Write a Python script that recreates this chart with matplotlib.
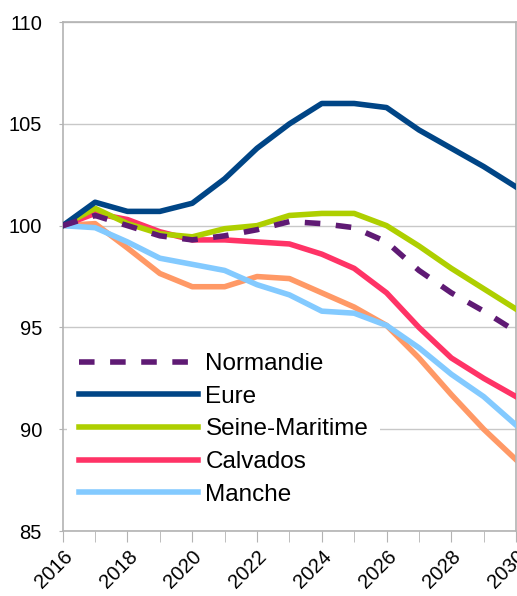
import numpy as np
import matplotlib
matplotlib.use('Agg')
import matplotlib.pyplot as plt

# data (index, base 100 in 2016)
years = list(range(2016, 2031))
normandie = [100, 100.5, 100.0, 99.5, 99.3, 99.5, 99.8, 100.2, 100.1, 99.9, 99.2, 97.8, 96.7, 95.8, 94.8]
eure = [100, 101.15, 100.7, 100.7, 101.1, 102.3, 103.8, 105.0, 106.0, 106.0, 105.8, 104.7, 103.8, 102.9, 101.9]
seine_maritime = [100, 100.85, 100.1, 99.6, 99.45, 99.85, 100.0, 100.5, 100.6, 100.6, 100.0, 99.0, 97.9, 96.9, 95.9]
calvados = [100, 100.6, 100.3, 99.7, 99.3, 99.3, 99.2, 99.1, 98.6, 97.9, 96.7, 95.0, 93.5, 92.5, 91.6]
manche = [100, 99.9, 99.2, 98.4, 98.1, 97.8, 97.1, 96.6, 95.8, 95.7, 95.1, 94.0, 92.7, 91.6, 90.2]
orne = [100, 100.1, 98.9, 97.65, 97.0, 97.0, 97.5, 97.4, 96.7, 96.0, 95.1, 93.5, 91.7, 90.0, 88.5]

plt.rcParams['font.family'] = ['Liberation Sans', 'DejaVu Sans']

fig = plt.figure(figsize=(5.17, 5.96), dpi=100)
ax = fig.add_axes([0.1213, 0.109, 0.877, 0.854])

lw = 4
# orange line (Orne) drawn first, it is not in the legend
ax.plot(years, orne, color='#ff9966', lw=lw, zorder=2)
l5, = ax.plot(years, manche, color='#83caff', lw=lw, label='Manche', zorder=3)
l4, = ax.plot(years, calvados, color='#ff3366', lw=lw, label='Calvados', zorder=4)
l3, = ax.plot(years, seine_maritime, color='#aecf00', lw=lw, label='Seine-Maritime', zorder=5)
l2, = ax.plot(years, eure, color='#004586', lw=lw, label='Eure', zorder=6)
l1, = ax.plot(years, normandie, color='#5f1a74', lw=lw, label='Normandie', zorder=7,
              dashes=(2.8, 2.8), dash_capstyle='butt')

ax.set_xlim(2016, 2030)
ax.set_ylim(85, 110)
ax.set_yticks([85, 90, 95, 100, 105, 110])
ax.set_xticks(range(2016, 2031, 2))
ax.set_xticks(range(2016, 2031), minor=True)
ax.grid(axis='y', color='#c8c8c8', lw=1, zorder=0)
for s in ax.spines.values():
    s.set_color('#b3b3b3')
    s.set_linewidth(1.2)

ax.tick_params(axis='y', labelsize=14.5, length=3, color='#b3b3b3', pad=12)
ax.tick_params(axis='x', which='both', length=8, color='#b3b3b3', labelsize=14.5)
for lab in ax.get_xticklabels():
    lab.set_rotation(45)
    lab.set_ha('right')
    lab.set_rotation_mode('anchor')

leg = ax.legend(handles=[l1, l2, l3, l4, l5], loc='upper left',
                bbox_to_anchor=(0.02, 0.364), fontsize=17.5, frameon=True,
                handlelength=4.9, handletextpad=0.3, labelspacing=0.44,
                borderpad=0.3, borderaxespad=0)
leg.get_frame().set_edgecolor('none')
leg.get_frame().set_facecolor('white')
leg.get_frame().set_alpha(1)
leg.get_frame().set_boxstyle('square', pad=0.2)
leg.set_zorder(1.5)

fig.savefig('out.png', dpi=100)
